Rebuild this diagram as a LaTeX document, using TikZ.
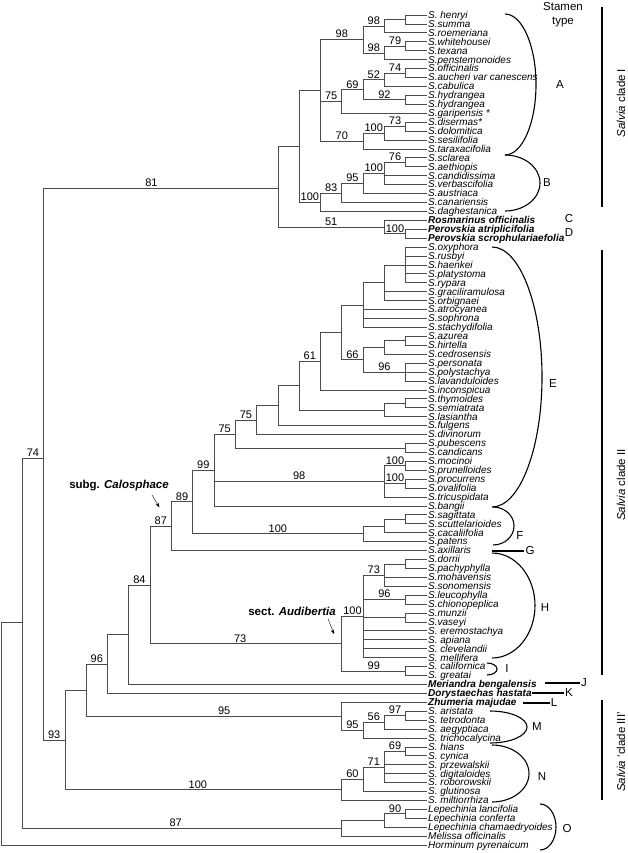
\documentclass[tikz,border=0pt]{standalone}
\usepackage{fontspec}
\setmainfont{Liberation Sans}
\usetikzlibrary{arrows.meta}

\begin{document}
\begin{tikzpicture}[x=1pt, y=-1pt,
    every node/.style={font=\fontsize{11}{12}\selectfont},
    branch/.style={draw=black!70, line width=0.7pt},
    taxon/.style={anchor=west, inner sep=1pt, text height=6.8pt, text depth=0pt,
      font=\fontsize{10}{10}\selectfont\itshape},
    boot/.style={above, inner sep=1.2pt, font=\fontsize{11}{11}\selectfont},
    stamenarc/.style={line width=1.1pt},
    cladebar/.style={line width=1.6pt},
    grp/.style={inner sep=1pt, font=\fontsize{11.5}{12}\selectfont}]
\useasboundingbox (0,0) rectangle (628,853);

% taxa, top to bottom
\foreach \tx [count=\i] in {S. henryi, S.summa, S.roemeriana, S.whitehousei, S.texana,
    S.penstemonoides, S.officinalis, S.aucheri var canescens, S.cabulica, S.hydrangea,
    S.hydrangea, S.garipensis *, S.disermas*, S.dolomitica, S.sesilifolia,
    S.taraxacifolia, S.sclarea, S.aethiopis, S.candidissima, S.verbascifolia,
    S.austriaca, S.canariensis, S.daghestanica, {\bfseries Rosmarinus officinalis},
    {\bfseries Perovskia atriplicifolia}, {\bfseries Perovskia scrophulariaefolia},
    S.oxyphora, S.rusbyi, S.haenkei, S.platystoma, S.rypara, S.graciliramulosa,
    S.orbignaei, S.atrocyanea, S.sophrona, S.stachydifolia, S.azurea, S.hirtella,
    S.cedrosensis, S.personata, S.polystachya, S.lavanduloides, S.inconspicua,
    S.thymoides, S.semiatrata, S.lasiantha, S.fulgens, S.divinorum, S.pubescens,
    S.candicans, S.mocinoi, S.prunelloides, S.procurrens, S.ovalifolia,
    S.tricuspidata, S.bangii, S.sagittata, S.scuttelarioides, S.cacaliifolia,
    S.patens, S.axillaris, S.dorrii, S.pachyphylla, S.mohavensis, S.sonomensis,
    S.leucophylla, S.chionopeplica, S.munzii, S.vaseyi, S. eremostachya, S. apiana,
    S. clevelandii, S. mellifera, S. californica, S. greatai,
    {\bfseries Meriandra bengalensis}, {\bfseries Dorystaechas hastata},
    {\bfseries Zhumeria majudae}, S. aristata, S. tetrodonta, S. aegyptiaca,
    S. trichocalycina, S. hians, S. cynica, S. przewalskii, S. digitaloides,
    S. roborowskii, S. glutinosa, S. miltiorrhiza, Lepechinia lancifolia,
    Lepechinia conferta, Lepechinia chamaedryoides, Melissa officinalis,
    Horminum pyrenaicum}
  \node[taxon] (l\i) at (427,{15+(\i-1)*8.925}) {\tx};

% clade I
\coordinate (a1) at (405.7,19.5);
\coordinate (a2) at (384.4,26.2);
\coordinate (a3) at (405.7,46.2);
\coordinate (a4) at (384.4,52.9);
\coordinate (a5) at (363.1,39.6);
\coordinate (a6) at (405.7,73.0);
\coordinate (a7) at (384.4,79.7);
\coordinate (a8) at (405.7,99.8);
\coordinate (a9) at (363.1,89.8);
\coordinate (a10) at (341.8,101.5);
\coordinate (a11) at (405.7,126.6);
\coordinate (a12) at (384.4,133.3);
\coordinate (a13) at (363.1,141.1);
\coordinate (cladeA) at (320.5,90.3);
\coordinate (b1) at (405.7,162.3);
\coordinate (b2) at (384.4,173.4);
\coordinate (b3) at (363.1,183.5);
\coordinate (b4) at (341.8,192.9);
\coordinate (cladeB) at (320.5,202.2);
\coordinate (salviaI) at (299.2,146.2);
\coordinate (d1) at (405.7,233.7);
\coordinate (d2) at (384.4,227.0);
\coordinate (sI) at (277.9,188.0);
% clade II
\coordinate (e1) at (405.7,264.9);
\coordinate (e2) at (384.4,282.8);
\coordinate (e3) at (363.1,305.1);
\coordinate (e4) at (405.7,340.8);
\coordinate (e5) at (384.4,347.5);
\coordinate (e6) at (405.7,372.0);
\coordinate (e7) at (363.1,359.7);
\coordinate (e8) at (341.8,332.4);
\coordinate (e9) at (320.5,361.1);
\coordinate (e10) at (299.2,385.5);
\coordinate (e11) at (405.7,403.2);
\coordinate (e12) at (384.4,409.9);
\coordinate (e13) at (277.9,405.5);
\coordinate (e14) at (256.6,420.0);
\coordinate (e15) at (235.3,433.9);
\coordinate (e16) at (405.7,447.9);
\coordinate (e17) at (405.7,465.7);
\coordinate (e18) at (405.7,483.6);
\coordinate (e19) at (384.4,481.3);
\coordinate (e20) at (214.0,469.9);
\coordinate (f1) at (405.7,519.3);
\coordinate (f2) at (384.4,526.0);
\coordinate (f3) at (363.1,533.8);
\coordinate (g1) at (192.7,501.8);
\coordinate (calosphace) at (171.4,526.2);
\coordinate (h1) at (405.7,563.9);
\coordinate (h2) at (384.4,575.0);
\coordinate (h3) at (405.7,599.6);
\coordinate (h5) at (405.7,617.4);
\coordinate (h4) at (363.1,616.3);
\coordinate (i1) at (405.7,671.0);
\coordinate (audibertia) at (341.8,643.7);
\coordinate (g3) at (150.1,584.9);
\coordinate (j1) at (128.8,634.7);
\coordinate (k1) at (107.5,664.0);
% clade III
\coordinate (m1) at (405.7,715.6);
\coordinate (m2) at (384.4,722.3);
\coordinate (m3) at (363.1,730.1);
\coordinate (m4) at (341.8,716.2);
\coordinate (k2) at (86.2,690.1);
\coordinate (n1) at (405.7,751.3);
\coordinate (n2) at (384.4,766.9);
\coordinate (n3) at (363.1,779.2);
\coordinate (n4) at (341.8,789.8);
\coordinate (salviaIII) at (64.9,739.9);
\coordinate (core) at (43.6,458.3);
% outgroups
\coordinate (o1) at (405.7,813.8);
\coordinate (o2) at (384.4,820.5);
\coordinate (o3) at (341.8,828.3);
\coordinate (ingroup) at (22.3,622.7);
\coordinate (root) at (1,733.9);

% branches to taxa
\foreach \pn/\cn in {a1/1,a1/2,a2/3,a3/4,a3/5,a4/6,a6/7,a6/8,a7/9,a8/10,a8/11,a10/12,
    a11/13,a11/14,a12/15,a13/16,b1/17,b1/18,b2/19,b2/20,b3/21,b4/22,cladeB/23,
    d2/24,d1/25,d1/26,e1/27,e1/28,e1/29,e1/30,e1/31,e2/32,e2/33,e3/34,e3/35,e3/36,
    e4/37,e4/38,e5/39,e6/40,e6/41,e6/42,e9/43,e11/44,e11/45,e12/46,e13/47,e14/48,
    e16/49,e16/50,e17/51,e17/52,e18/53,e18/54,e19/55,e20/56,f1/57,f1/58,f2/59,f3/60,
    calosphace/61,h1/62,h1/63,h2/64,h2/65,h3/66,h3/67,h5/68,h5/69,h4/70,h4/71,h4/72,
    h4/73,i1/74,i1/75,j1/76,k1/77,m4/78,m1/79,m1/80,m2/81,m3/82,n1/83,n1/84,n2/85,
    n2/86,n2/87,n3/88,n4/89,o1/90,o1/91,o2/92,o3/93,root/94}
  \draw[branch] (\pn) |- (l\cn.west);

% inner branches without support
\foreach \pn/\cn in {a2/a1,salviaI/cladeA,sI/salviaI,e2/e1,e3/e2,e8/e3,e5/e4,e7/e5,
    e9/e8,e12/e11,e10/e12,e13/e10,e14/e13,e15/e16,f2/f1,f3/f2,h2/h1,h4/h5,k1/j1,
    o3/o2,salviaIII/k2,root/ingroup}
  \draw[branch] (\pn) |- (\cn);

% inner branches with support
\foreach \pn/\cn/\sv in {a5/a2/98,a4/a3/79,a5/a4/98,cladeA/a5/98,a7/a6/74,a9/a7/52,
    a9/a8/92,a10/a9/69,cladeA/a10/75,a12/a11/73,a13/a12/100,cladeA/a13/70,
    b2/b1/76,b3/b2/100,b4/b3/95,cladeB/b4/83,salviaI/cladeB/100,d2/d1/100,sI/d2/51,
    e7/e6/96,e8/e7/66,e10/e9/61,e15/e14/75,e20/e15/75,e19/e17/100,
    e19/e18/100,e20/e19/98,g1/e20/99,g1/f3/100,calosphace/g1/89,g3/calosphace/87,
    h4/h2/73,h4/h3/96,audibertia/h4/100,audibertia/i1/99,j1/g3/84,
    k2/k1/96,m2/m1/97,m3/m2/56,m4/m3/95,n2/n1/69,n3/n2/71,n4/n3/60,
    core/salviaIII/93,ingroup/core/74,o2/o1/90}
  \draw[branch] (\pn) |- (\cn) node[boot, pos=.75] {\sv};

% long branches, support placed by hand
\foreach \pn/\cn/\sv/\ps in {core/sI/81/.73,g3/audibertia/73/.735,k2/m4/95/.77,
    salviaIII/n4/100/.74,ingroup/o3/87/.74}
  \draw[branch] (\pn) |- (\cn) node[boot, pos=\ps] {\sv};

% section names
\node[font=\bfseries\fontsize{11.5}{12}\selectfont] (subg) at (119,486) {subg. \textit{Calosphace}};
\coordinate (calotip) at (159.3,507.3);
\draw[-{Stealth[length=4.5pt, width=3.5pt]}] ([xshift=33pt]subg.south) -- (calotip);
\node[font=\bfseries\fontsize{11.5}{12}\selectfont] (sect) at (292,611) {sect. \textit{Audibertia}};
\coordinate (audtip) at (334,634);
\draw[-{Stealth[length=4.5pt, width=3.5pt]}] ([xshift=36pt]sect.south) -- (audtip);

% stamen types
\node[align=center, font=\fontsize{11.5}{14}\selectfont] (stamen) at (563,15) {Stamen\\type};
\draw[stamenarc] (505,14) arc[start angle=-90, end angle=90, x radius=31, y radius=70.5];
\draw[stamenarc] (505,155) arc[start angle=-90, end angle=90, x radius=35, y radius=28];
\draw[stamenarc] (492,247) arc[start angle=-90, end angle=90, x radius=50, y radius=130];
\draw[stamenarc] (493,507) arc[start angle=-90, end angle=90, x radius=21, y radius=19];
\draw[stamenarc] (492,553) arc[start angle=-90, end angle=90, x radius=43, y radius=52.5];
\draw[stamenarc] (487,663) arc[start angle=-90, end angle=90, x radius=10, y radius=6];
\draw[stamenarc] (490,711) arc[start angle=-90, end angle=90, x radius=37, y radius=16];
\draw[stamenarc] (492,745) arc[start angle=-90, end angle=90, x radius=37, y radius=28.5];
\draw[stamenarc] (540,804) arc[start angle=-90, end angle=90, x radius=16, y radius=23];
\node[grp] (tA) at (560,85) {A};
\node[grp] (tB) at (547,183) {B};
\node[grp] (tC) at (569,219) {C};
\node[grp] (tD) at (569,233) {D};
\node[grp] (tE) at (553,384) {E};
\node[grp] (tF) at (520,536) {F};
\node[grp] (tG) at (530,551) {G};
\node[grp] (tH) at (545,608) {H};
\node[grp] (tI) at (507,669) {I};
\node[grp] (tJ) at (584,683) {J};
\node[grp] (tK) at (569,693) {K};
\node[grp] (tL) at (554,703) {L};
\node[grp] (tM) at (537,727) {M};
\node[grp] (tN) at (542,777) {N};
\node[grp] (tO) at (567,829) {O};
\coordinate (gG) at (492,551);
\coordinate (gJ) at (545,683);
\coordinate (gK) at (532,693);
\coordinate (gL) at (523,703);
\draw[stamenarc] (gG) -- (tG.west);
\draw[stamenarc] (gJ) -- (tJ.west);
\draw[stamenarc] (gK) -- (tK.west);
\draw[stamenarc] (gL) -- (tL.west);

% clades
\draw[cladebar] (601.7,6.7) -- (601.7,206.7);
\draw[cladebar] (601.7,250) -- (601.7,675);
\draw[cladebar] (601.7,700) -- (601.7,800);
\node[rotate=90, grp] (clI) at (621,103) {\textit{Salvia} clade I};
\node[rotate=90, grp] (clII) at (621,485) {\textit{Salvia} clade II};
\node[rotate=90, grp] (clIII) at (621,752) {\textit{Salvia} `clade III'};
\end{tikzpicture}
\end{document}
